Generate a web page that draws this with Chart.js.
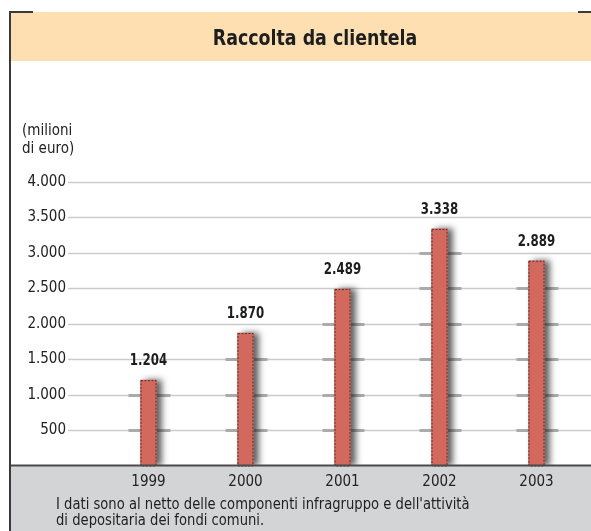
<!DOCTYPE html>
<html><head><meta charset="utf-8">
<script src="https://cdn.jsdelivr.net/npm/chart.js@4"></script>
<style>html,body{margin:0;padding:0;background:#fff}#wrap{width:591px;height:531px;position:relative}</style>
</head><body><div id="wrap"><canvas id="c"></canvas></div>
<script>
const chartTitle = 'Raccolta da clientela';
const unitLabel = ['(milioni', 'di euro)'];
const years = ['1999', '2000', '2001', '2002', '2003'];
const raccolta = [1204, 1870, 2489, 3338, 2889];
const yTicks = [500, 1000, 1500, 2000, 2500, 3000, 3500, 4000];
const footnote = ["I dati sono al netto delle componenti infragruppo e dell'attività", 'di depositaria dei fondi comuni.'];

const FONT = '"Liberation Sans Narrow", "DejaVu Sans Condensed", "Liberation Sans", sans-serif';
function fmt(v) { return String(v).replace(/\B(?=(\d{3})+(?!\d))/g, '.'); }

function squeezedText(ctx, text, x, y, sx) {
  ctx.save();
  ctx.translate(x, y);
  ctx.scale(sx, 1);
  ctx.fillText(text, 0, 0);
  ctx.restore();
}

const deco = {
  id: 'deco',
  beforeDraw(chart) {
    const { ctx, width, height } = chart;
    const yS = chart.scales.y;
    const base = yS.getPixelForValue(0);
    ctx.save();
    ctx.fillStyle = '#fddfb2';
    ctx.fillRect(11, 12, width - 11, 49);
    ctx.fillStyle = '#d3d4d6';
    ctx.fillRect(11, base, width - 11, height - base);
    ctx.strokeStyle = '#3a3a3a';
    ctx.lineWidth = 2;
    ctx.beginPath(); ctx.moveTo(10, 11); ctx.lineTo(10, height); ctx.stroke();
    ctx.beginPath(); ctx.moveTo(9, 12); ctx.lineTo(33, 12); ctx.moveTo(578, 12); ctx.lineTo(width, 12); ctx.stroke();
    ctx.fillStyle = '#1e1e1e';
    ctx.font = 'bold 22px ' + FONT;
    ctx.textAlign = 'center'; ctx.textBaseline = 'middle';
    squeezedText(ctx, chartTitle, 315, 39, 0.88);
    ctx.font = '15px ' + FONT;
    ctx.textAlign = 'left';
    ctx.fillStyle = '#222';
    ctx.fillText(unitLabel[0], 22, 131);
    ctx.fillText(unitLabel[1], 22, 149);
    squeezedText(ctx, footnote[0], 56, 505, 0.975);
    squeezedText(ctx, footnote[1], 56, 521, 0.975);
    // grid lines
    ctx.strokeStyle = '#cbcbcb'; ctx.lineWidth = 1.5;
    yTicks.forEach(v => {
      const y = Math.round(yS.getPixelForValue(v)) + 0.5;
      ctx.beginPath(); ctx.moveTo(68, y); ctx.lineTo(width, y); ctx.stroke();
    });
    ctx.strokeStyle = '#ababab'; ctx.lineWidth = 3;
    chart.getDatasetMeta(0).data.forEach((bar, i) => {
      yTicks.forEach(v => {
        if (v < raccolta[i]) {
          const y = Math.round(yS.getPixelForValue(v)) + 0.5;
          ctx.beginPath(); ctx.moveTo(bar.x - 20, y); ctx.lineTo(bar.x + 22, y); ctx.stroke();
        }
      });
    });
    ctx.restore();
  },
  beforeDatasetsDraw(chart) {
    const ctx = chart.ctx;
    ctx.save();
    ctx.shadowColor = 'rgba(30,30,30,0.7)';
    ctx.shadowOffsetX = 5; ctx.shadowOffsetY = 0; ctx.shadowBlur = 6;
  },
  afterDatasetsDraw(chart) {
    const { ctx, width } = chart;
    ctx.restore();
    const yS = chart.scales.y;
    const base = yS.getPixelForValue(0);
    ctx.save();
    ctx.strokeStyle = '#4a3836'; ctx.lineWidth = 1; ctx.setLineDash([2, 1.5]);
    chart.getDatasetMeta(0).data.forEach((bar) => {
      const l = bar.x - bar.width / 2;
      ctx.strokeRect(l + 0.5, bar.y + 0.5, bar.width - 1, base - bar.y);
    });
    ctx.setLineDash([]);
    ctx.strokeStyle = '#4a4a4a'; ctx.lineWidth = 2;
    ctx.beginPath(); ctx.moveTo(11, base); ctx.lineTo(width, base); ctx.stroke();
    ctx.fillStyle = '#1e1e1e';
    ctx.font = 'bold 16px ' + FONT;
    ctx.textAlign = 'center'; ctx.textBaseline = 'middle';
    chart.getDatasetMeta(0).data.forEach((bar, i) => {
      squeezedText(ctx, fmt(raccolta[i]), bar.x, bar.y - 19, 0.82);
    });
    ctx.restore();
  }
};

new Chart(document.getElementById('c'), {
  type: 'bar',
  data: {
    labels: years,
    datasets: [{
      data: raccolta,
      backgroundColor: '#d3685c',
      borderWidth: 0,
      barThickness: 16
    }]
  },
  options: {
    responsive: true,
    maintainAspectRatio: false,
    animation: false,
    layout: { padding: { left: 0, top: 182, right: 6, bottom: 35.5 } },
    plugins: { legend: { display: false }, title: { display: false }, tooltip: { enabled: false } },
    scales: {
      x: {
        grid: { display: false, drawTicks: false },
        border: { display: false },
        ticks: { color: '#222', font: { family: FONT, size: 15 }, padding: 8 },
        afterFit(s) { s.height = 30; }
      },
      y: {
        min: 0, max: 4000,
        grid: { display: false, drawTicks: false },
        border: { display: false },
        ticks: {
          stepSize: 500, padding: 34, color: '#222',
          font: { family: FONT, size: 15 },
          callback: v => v === 0 ? '' : fmt(v)
        },
        afterFit(s) { s.width = 100; }
      }
    }
  },
  plugins: [deco]
});
</script>
</body></html>
